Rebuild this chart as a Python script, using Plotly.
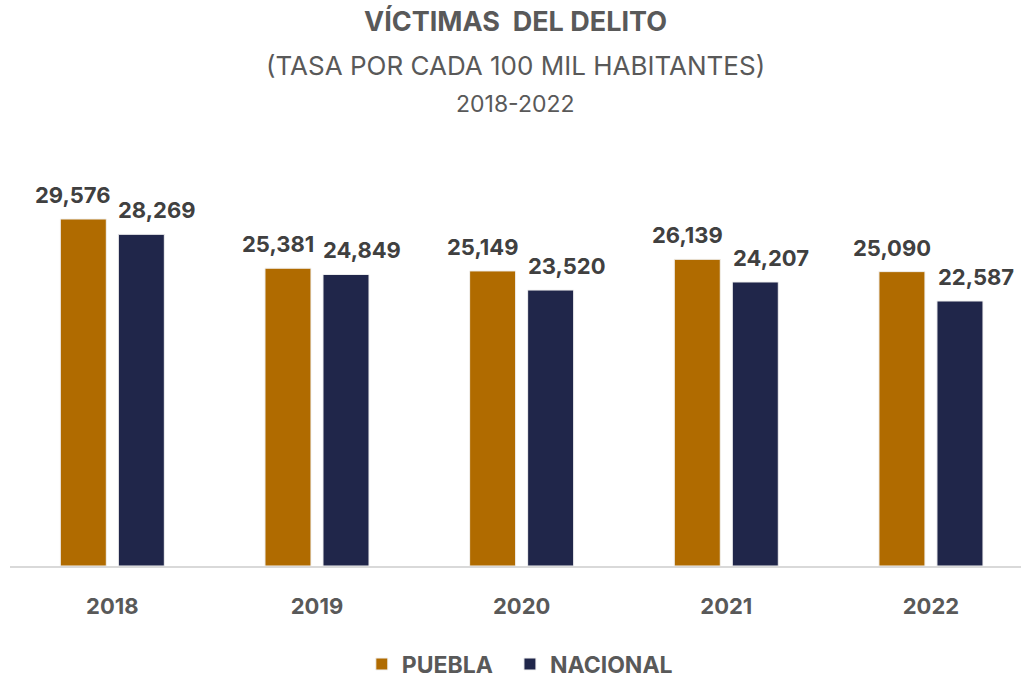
import plotly.graph_objects as go

years = ["2018", "2019", "2020", "2021", "2022"]
puebla = [29576, 25381, 25149, 26139, 25090]
nacional = [28269, 24849, 23520, 24207, 22587]

C_PUE = "#B06B00"
C_NAC = "#20264A"
FONT = "Inter"

fig = go.Figure()
fig.add_bar(x=years, y=puebla, name="PUEBLA", marker=dict(color=C_PUE, line=dict(color="#F2F2F2", width=1)),
            hoverinfo="x+y", legend="legend")
fig.add_bar(x=years, y=nacional, name="NACIONAL", marker=dict(color=C_NAC, line=dict(color="#F2F2F2", width=1)),
            hoverinfo="x+y", legend="legend2")

ann = []
for series, sh in ((puebla, -39), (nacional, 45)):
    for i, v in enumerate(series):
        ann.append(dict(x=i, y=v, xref="x", yref="y", text=f"<b>{v:,}</b>", showarrow=False,
                        xanchor="center", yanchor="bottom", xshift=sh, yshift=9,
                        font=dict(family=FONT, size=22, color="#404040")))

ann += [
    dict(x=0.5, y=1.308, xref="paper", yref="paper", yanchor="middle", showarrow=False,
         text="<b>VÍCTIMAS  DEL DELITO</b>", font=dict(family=FONT, size=27, color="#595959")),
    dict(x=0.5, y=1.202, xref="paper", yref="paper", yanchor="middle", showarrow=False,
         text="(TASA POR CADA 100 MIL HABITANTES)", font=dict(family=FONT, size=26, color="#595959")),
    dict(x=0.5, y=1.111, xref="paper", yref="paper", yanchor="middle", showarrow=False,
         text="2018-2022", font=dict(family=FONT, size=23, color="#595959")),
]
fig.update_layout(annotations=ann)

leg_style = dict(orientation="h", xanchor="left", yref="container", y=0.022, yanchor="middle",
                 font=dict(family=FONT, size=23, color="#595959", weight="bold"), itemwidth=30)

fig.update_layout(
    width=1021, height=679,
    margin=dict(l=10, r=0, t=150, b=113),
    paper_bgcolor="white", plot_bgcolor="white",
    barmode="group", bargap=0.433, bargroupgap=0.207,
    font=dict(family=FONT, color="#595959"),
    showlegend=True,
    legend=dict(x=0.348, **leg_style),
    legend2=dict(x=0.4945, **leg_style),
)
fig.update_xaxes(type="category", range=[-0.5, 4.44], showline=True, linecolor="#D9D9D9", linewidth=2,
                 ticks="", ticklabelstandoff=20,
                 tickfont=dict(family=FONT, size=22, color="#595959", weight="bold"),
                 showgrid=False, zeroline=False)
fig.update_yaxes(range=[0, 35456], visible=False, showgrid=False, zeroline=False)

fig.write_html("out.html", config={"displayModeBar": False},
               post_script="document.body.style.margin='0';")
